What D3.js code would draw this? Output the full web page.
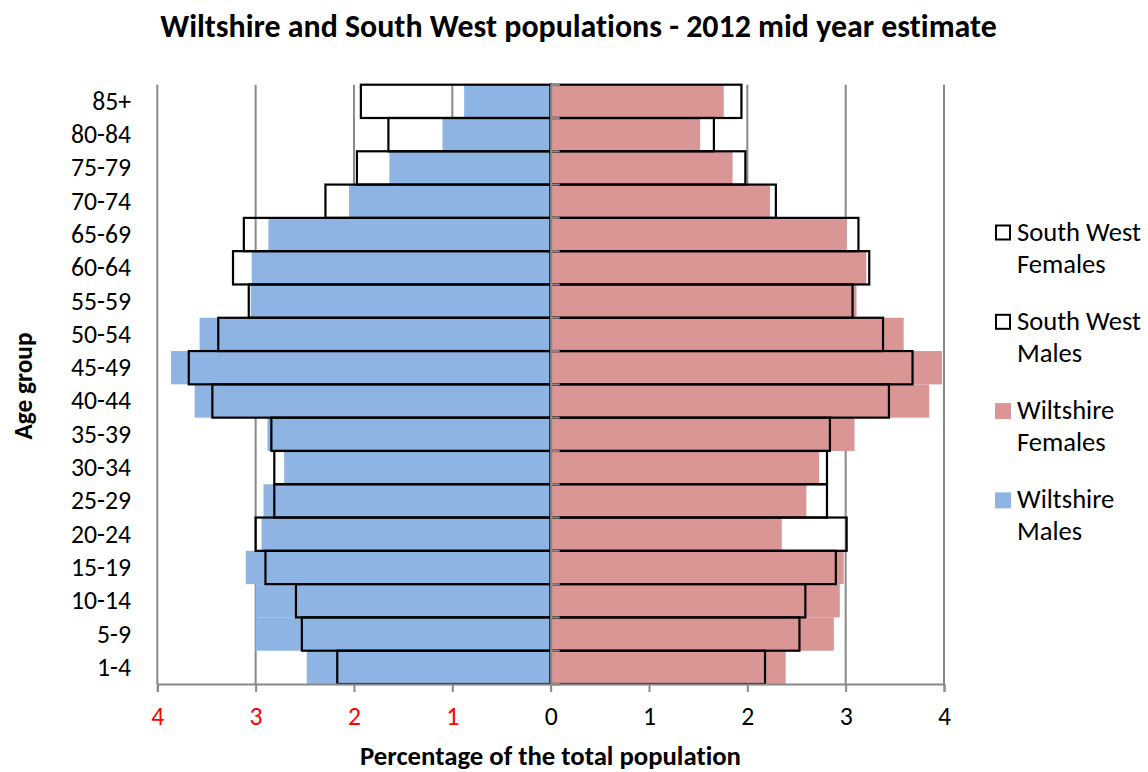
<!DOCTYPE html>
<html>
<head>
<meta charset="utf-8">
<script src="https://cdn.jsdelivr.net/npm/d3@7"></script>
<style>
  html, body { margin: 0; padding: 0; background: #fff; }
  svg { display: block; }
  text { font-family: Carlito, Lato, "Open Sans", "Liberation Sans", sans-serif; fill: #000; font-variant-ligatures: none; }
</style>
</head>
<body>
<svg id="chart" width="1148" height="772"></svg>
<script>
// ---------- data ----------
const ageGroups = ["85+","80-84","75-79","70-74","65-69","60-64","55-59","50-54","45-49","40-44",
                   "35-39","30-34","25-29","20-24","15-19","10-14","5-9","1-4"];
// percentages of total population
const wiltshireMales   = [0.88,1.10,1.64,2.05,2.87,3.04,3.05,3.57,3.86,3.62,2.88,2.71,2.92,2.94,3.10,3.00,3.00,2.48];
const wiltshireFemales = [1.76,1.52,1.85,2.23,3.01,3.21,3.11,3.59,3.98,3.85,3.09,2.73,2.60,2.35,2.98,2.94,2.88,2.39];
const southWestMales   = [1.93,1.65,1.97,2.29,3.12,3.23,3.07,3.38,3.68,3.44,2.84,2.81,2.81,3.00,2.90,2.59,2.53,2.17];
const southWestFemales = [1.94,1.66,1.98,2.29,3.13,3.24,3.07,3.38,3.68,3.44,2.84,2.81,2.81,3.01,2.90,2.59,2.53,2.18];
const xTicks = [-4,-3,-2,-1,0,1,2,3,4];
const legendItems = [
  {lines:["South West","Females"], type:"outline"},
  {lines:["South West","Males"],   type:"outline"},
  {lines:["Wiltshire","Females"],  type:"female"},
  {lines:["Wiltshire","Males"],    type:"male"}
];
const titleText = "Wiltshire and South West populations - 2012 mid year estimate";
const xTitleText = "Percentage of the total population";
const yTitleText = "Age group";

// ---------- styles ----------
const blue = "#8EB4E3", pink = "#D99694", grid = "#898989";

const svg = d3.select("#chart");

function fitText(sel, target) {
  sel.style("font-size", "20px");
  const w = sel.node().getComputedTextLength();
  const size = 20 * target / w;
  sel.style("font-size", size + "px");
  return size;
}

const x = d3.scaleLinear().domain([-4, 4]).range([157.3, 944]);
const y = d3.scaleBand().domain(ageGroups).range([84.7, 684]).padding(0);
const plotTop = 84.7, plotBottom = 684;

// gridlines
svg.append("g").selectAll("line").data(xTicks.filter(d => d !== 0)).join("line")
  .attr("x1", d => x(d)).attr("x2", d => x(d))
  .attr("y1", plotTop).attr("y2", plotBottom)
  .attr("stroke", grid).attr("stroke-width", 2);

// Wiltshire bars
const rows = ageGroups.map((a, i) => ({
  age: a, wm: wiltshireMales[i], wf: wiltshireFemales[i], sm: southWestMales[i], sf: southWestFemales[i]
}));
svg.append("g").selectAll("rect").data(rows).join("rect")
  .attr("x", d => x(-d.wm)).attr("width", d => x(0) - x(-d.wm))
  .attr("y", d => y(d.age)).attr("height", y.bandwidth())
  .attr("fill", blue);
svg.append("g").selectAll("rect").data(rows).join("rect")
  .attr("x", x(0)).attr("width", d => x(d.wf) - x(0))
  .attr("y", d => y(d.age)).attr("height", y.bandwidth())
  .attr("fill", pink);

// South West outlines
svg.append("g").selectAll("rect").data(rows).join("rect")
  .attr("x", d => x(-d.sm)).attr("width", d => x(0) - x(-d.sm))
  .attr("y", d => y(d.age)).attr("height", y.bandwidth())
  .attr("fill", "none").attr("stroke", "#000").attr("stroke-width", 2.2);
svg.append("g").selectAll("rect").data(rows).join("rect")
  .attr("x", x(0)).attr("width", d => x(d.sf) - x(0))
  .attr("y", d => y(d.age)).attr("height", y.bandwidth())
  .attr("fill", "none").attr("stroke", "#000").attr("stroke-width", 2.2);

// x axis
const xAxis = svg.append("g").attr("transform", `translate(0,${plotBottom})`)
  .call(d3.axisBottom(x).tickValues(xTicks).tickSize(8).tickPadding(12).tickFormat(d => Math.abs(d)));
xAxis.select(".domain").attr("stroke", grid).attr("stroke-width", 2);
xAxis.selectAll(".tick line").attr("stroke", grid).attr("stroke-width", 2);
xAxis.selectAll(".tick text")
  .attr("y", 0).attr("dy", 0)
  .attr("transform", "translate(0,41)")
  .style("fill", d => d < 0 ? "#FF0000" : "#000");

// zero (category) axis
const yAxis = svg.append("g").attr("transform", `translate(${x(0)},0)`)
  .call(d3.axisRight(y).tickSize(9).tickFormat(""));
yAxis.select(".domain").attr("stroke", grid).attr("stroke-width", 2);
yAxis.selectAll(".tick line").attr("stroke", grid).attr("stroke-width", 2)
  .attr("transform", `translate(0,${-y.bandwidth() / 2})`);
yAxis.append("line").attr("x1", 0).attr("x2", 9).attr("y1", plotBottom).attr("y2", plotBottom)
  .attr("stroke", grid).attr("stroke-width", 2);

// age labels
const ageLab = svg.append("g").selectAll("text").data(ageGroups).join("text")
  .attr("x", 131).attr("y", d => y(d) + y.bandwidth() / 2 + 8.5)
  .attr("text-anchor", "end").text(d => d);
const probe = ageLab.filter(d => d === "80-84");
const labSize = fitText(probe, 60);
ageLab.style("font-size", labSize + "px");
xAxis.selectAll(".tick text").style("font-size", labSize + "px")
  .style("font-family", "Carlito, Lato, 'Open Sans', 'Liberation Sans', sans-serif");

// title
const title = svg.append("text").attr("x", 578.5).attr("y", 37)
  .attr("text-anchor", "middle").style("font-weight", "bold").text(titleText);
fitText(title, 837);

// x title
const xt = svg.append("text").attr("x", 550.5).attr("y", 765)
  .attr("text-anchor", "middle").style("font-weight", "bold").text(xTitleText);
fitText(xt, 381);

// y title
const yt = svg.append("text").attr("transform", "translate(32,386) rotate(-90)")
  .attr("text-anchor", "middle").style("font-weight", "bold").text(yTitleText);
fitText(yt, 107);

// legend
const leg = svg.append("g");
const legTop = [240.5, 329.8, 419.1, 508.4];
legendItems.forEach((it, i) => {
  const g = leg.append("g").attr("transform", `translate(0,${legTop[i]})`);
  if (it.type === "outline") {
    g.append("rect").attr("x", 996).attr("y", -15).attr("width", 14).attr("height", 14)
      .attr("fill", "#fff").attr("stroke", "#000").attr("stroke-width", 2);
  } else {
    g.append("rect").attr("x", 995).attr("y", -16).attr("width", 16).attr("height", 16)
      .attr("fill", it.type === "female" ? pink : blue);
  }
  it.lines.forEach((t, j) => {
    g.append("text").attr("class", "legtxt").attr("x", 1017).attr("y", j * 32).text(t);
  });
});
const legProbe = leg.selectAll(".legtxt").filter(function() { return this.textContent === "South West"; });
const legSize = fitText(d3.select(legProbe.node()), 124);
leg.selectAll(".legtxt").style("font-size", legSize + "px");
</script>
</body>
</html>
